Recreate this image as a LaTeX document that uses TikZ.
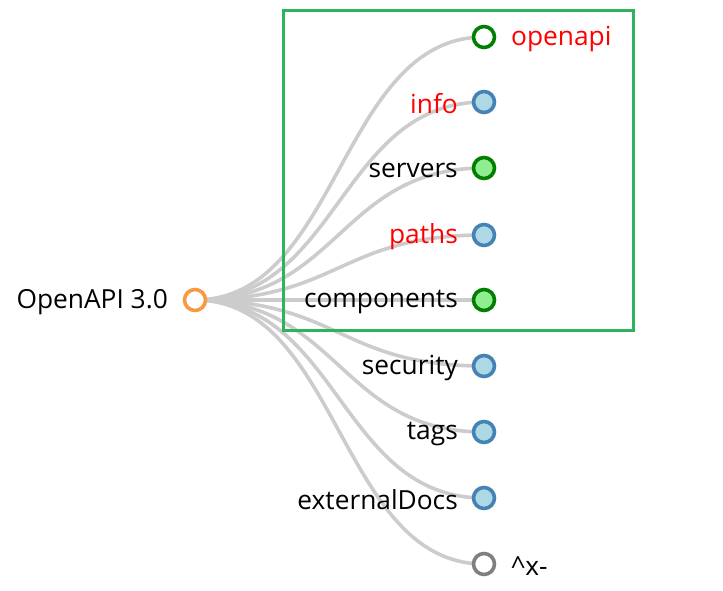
\documentclass[tikz,border=0pt]{standalone}
\usepackage{fontspec}
\setmainfont{Open Sans}
\begin{document}
\begin{tikzpicture}[x=1pt,y=-1pt,
  link/.style={draw=linkgray,line width=3.6pt},
  dot/.style={circle,minimum size=21pt,inner sep=0pt,line width=3.6pt},
  leafA/.style={dot,draw=steel,fill=lblue},
  leafG/.style={dot,draw=dgreen,fill=lgreen},
  leafO/.style={dot,draw=dgreen,fill=white},
  leafX/.style={dot,draw=xgray,fill=white},
  rootdot/.style={dot,draw=orng,fill=white},
  lab/.style={font=\fontsize{26.3}{31}\selectfont,inner sep=0pt}]
\definecolor{linkgray}{HTML}{CCCCCC}
\definecolor{steel}{HTML}{4682B4}
\definecolor{lblue}{HTML}{ADD8E6}
\definecolor{dgreen}{HTML}{008000}
\definecolor{lgreen}{HTML}{90EE90}
\definecolor{xgray}{HTML}{808080}
\definecolor{orng}{HTML}{F79A42}
\definecolor{boxgreen}{HTML}{2DB35A}
\useasboundingbox (0,0) rectangle (723,590);
\coordinate (r) at (195,300);
\foreach \n/\y in {a/37,b/102,c/168,d/235,e/300,f/366,g/432,h/498,i/564}{
  \coordinate (\n) at (484,\y);
  \draw[link] (r) .. controls (339.5,300) and (339.5,\y) .. (\n);
}
\node[rootdot] (root) at (r) {};
\node[leafO] (n1) at (a) {};
\node[leafA] (n2) at (b) {};
\node[leafG] (n3) at (c) {};
\node[leafA] (n4) at (d) {};
\node[leafG] (n5) at (e) {};
\node[leafA] (n6) at (f) {};
\node[leafA] (n7) at (g) {};
\node[leafA] (n8) at (h) {};
\node[leafX] (n9) at (i) {};
\node[lab,anchor=east] (t0) at (168,302) {OpenAPI 3.0};
\node[lab,anchor=west,text=red] (t1) at (511,39) {openapi};
\node[lab,anchor=east,text=red] (t2) at (458,104) {info};
\node[lab,anchor=east] (t3) at (458,170) {servers};
\node[lab,anchor=east,text=red] (t4) at (458,237) {paths};
\node[lab,anchor=east] (t5) at (458,302) {components};
\node[lab,anchor=east] (t6) at (458,368) {security};
\node[lab,anchor=east] (t7) at (458,434) {tags};
\node[lab,anchor=east] (t8) at (458,500) {externalDocs};
\node[lab,anchor=west] (t9) at (511,566) {\^{}x-};
\draw[boxgreen,line width=3.5pt] (283.5,10.5) rectangle (633.5,330.5);
\end{tikzpicture}
\end{document}
